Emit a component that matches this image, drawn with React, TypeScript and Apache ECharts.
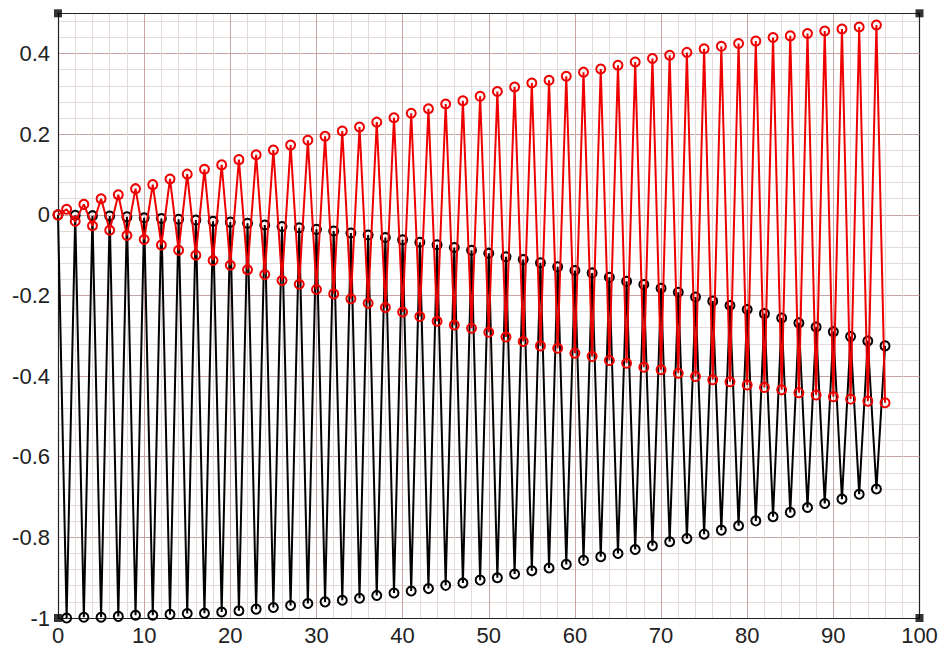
import React, { useEffect, useRef } from "react";
import * as echarts from "echarts";

// values at even x = 0, 2, ..., 96
const blackEven = [
  0, -0.001, -0.002, -0.003, -0.005, -0.007, -0.009, -0.011, -0.013, -0.016,
  -0.018, -0.021, -0.025, -0.029, -0.032, -0.036, -0.04, -0.045, -0.05, -0.056,
  -0.062, -0.068, -0.074, -0.081, -0.088, -0.095,
  -0.104, -0.111, -0.119, -0.129, -0.138, -0.144, -0.155, -0.165, -0.173, -0.182,
  -0.192, -0.204, -0.214, -0.225, -0.235, -0.245, -0.256, -0.268, -0.278, -0.29,
  -0.302, -0.313, -0.325,
];
// values at odd x = 1, 3, ..., 95
const blackOdd = [
  -1.0, -0.998, -0.998, -0.996, -0.993, -0.993, -0.991, -0.989, -0.988, -0.985,
  -0.982, -0.978, -0.974, -0.969, -0.964, -0.96, -0.956, -0.951, -0.944, -0.938,
  -0.933, -0.927, -0.919, -0.913, -0.906,
  -0.9, -0.891, -0.883, -0.876, -0.867, -0.857, -0.848, -0.84, -0.83, -0.821,
  -0.811, -0.803, -0.792, -0.782, -0.771, -0.759, -0.749, -0.738, -0.726, -0.716,
  -0.705, -0.693, -0.68,
];
// values at odd x = 1, 3, ..., 95
const redOdd = [
  0.014, 0.026, 0.04, 0.05, 0.065, 0.075, 0.089, 0.101, 0.113, 0.124,
  0.137, 0.149, 0.161, 0.173, 0.185, 0.195, 0.208, 0.218, 0.23, 0.241,
  0.252, 0.263, 0.275, 0.283, 0.294,
  0.306, 0.317, 0.327, 0.334, 0.344, 0.354, 0.362, 0.371, 0.379, 0.388,
  0.396, 0.403, 0.412, 0.418, 0.425, 0.431, 0.44, 0.444, 0.45, 0.456,
  0.461, 0.466, 0.471,
];
// values at even x = 0, 2, ..., 96
const redEven = [
  0, -0.016, -0.027, -0.038, -0.051, -0.061, -0.075, -0.088, -0.1, -0.113,
  -0.125, -0.136, -0.148, -0.163, -0.172, -0.185, -0.196, -0.208, -0.219, -0.23,
  -0.241, -0.252, -0.264, -0.273, -0.281, -0.291,
  -0.303, -0.314, -0.325, -0.331, -0.343, -0.351, -0.361, -0.368, -0.378, -0.384,
  -0.393, -0.401, -0.409, -0.414, -0.422, -0.428, -0.434, -0.441, -0.447, -0.451,
  -0.457, -0.462, -0.466,
];
const corners = [
  [0, 0.5],
  [100, 0.5],
  [0, -1],
  [100, -1],
];

function interleave(even: number[], odd: number[]) {
  const out: number[][] = [];
  const n = even.length + odd.length;
  for (let x = 0; x < n; x++) {
    out.push([x, x % 2 === 0 ? even[x / 2] : odd[(x - 1) / 2]]);
  }
  return out;
}

const MAJOR = "#c9a4a4";
const MINOR = "#e4dada";
const FONT = "Liberation Sans";

export default function App() {
  const ref = useRef<HTMLDivElement>(null);
  useEffect(() => {
    if (!ref.current) return;
    const chart = echarts.init(ref.current, undefined, { renderer: "svg" });
    chart.setOption({
      animation: false,
      backgroundColor: "#fff",
      grid: { left: 58, right: 27.5, top: 13.3, bottom: 34, containLabel: false },
      xAxis: [
        {
          type: "value",
          min: 0,
          max: 100,
          interval: 10,
          position: "bottom",
          z: 1,
          axisLine: { show: true, onZero: false, lineStyle: { color: "#222", width: 1.2 } },
          axisTick: { show: false },
          axisLabel: { fontSize: 22, color: "#222", margin: 6, fontFamily: FONT },
          splitLine: { show: true, showMinLine: false, showMaxLine: false, lineStyle: { color: MAJOR, width: 1 } },
          minorTick: { show: false, splitNumber: 5 },
          minorSplitLine: { show: true, lineStyle: { color: MINOR, width: 1 } },
        },
        {
          type: "value",
          min: 0,
          max: 100,
          position: "top",
          z: 1,
          axisLine: { show: true, onZero: false, lineStyle: { color: "#222", width: 1.2 } },
          axisTick: { show: false },
          axisLabel: { show: false },
          splitLine: { show: false },
        },
      ],
      yAxis: [
        {
          type: "value",
          min: -1,
          max: 0.5,
          interval: 0.2,
          position: "left",
          z: 1,
          axisLine: { show: true, onZero: false, lineStyle: { color: "#222", width: 1.2 } },
          axisTick: { show: false },
          axisLabel: {
            fontSize: 22,
            color: "#222",
            margin: 8,
            fontFamily: FONT,
            formatter: (v: number) => (Math.abs(v - 0.5) < 1e-9 ? "" : String(Math.round(v * 10) / 10)),
          },
          splitLine: { show: true, showMinLine: false, showMaxLine: false, lineStyle: { color: MAJOR, width: 1 } },
        },
        {
          type: "value",
          min: -1,
          max: 0.5,
          interval: 0.04,
          position: "right",
          z: 0,
          axisLine: { show: true, onZero: false, lineStyle: { color: "#222", width: 1.2 } },
          axisTick: { show: false },
          axisLabel: { show: false },
          splitLine: { show: true, showMinLine: false, showMaxLine: false, lineStyle: { color: MINOR, width: 1 } },
        },
      ],
      series: [
        {
          type: "line",
          data: interleave(blackEven, blackOdd),
          xAxisIndex: 0,
          yAxisIndex: 0,
          symbol: "circle",
          symbolSize: 9,
          showAllSymbol: true,
          lineStyle: { color: "#000", width: 2 },
          itemStyle: { color: "rgba(0,0,0,0)", borderColor: "#000", borderWidth: 2 },
          z: 3,
        },
        {
          type: "line",
          data: interleave(redEven, redOdd),
          xAxisIndex: 0,
          yAxisIndex: 0,
          symbol: "circle",
          symbolSize: 9,
          showAllSymbol: true,
          lineStyle: { color: "#ee0000", width: 2 },
          itemStyle: { color: "rgba(0,0,0,0)", borderColor: "#ee0000", borderWidth: 2 },
          z: 4,
        },
        {
          type: "scatter",
          data: corners,
          xAxisIndex: 0,
          yAxisIndex: 0,
          symbol: "rect",
          symbolSize: 8,
          clip: false,
          itemStyle: { color: "#000" },
          z: 5,
        },
      ],
    });
    return () => chart.dispose();
  }, []);
  return (
    <div
      ref={ref}
      style={{ position: "fixed", left: 0, top: 0, width: 947, height: 652, background: "#fff" }}
    />
  );
}
